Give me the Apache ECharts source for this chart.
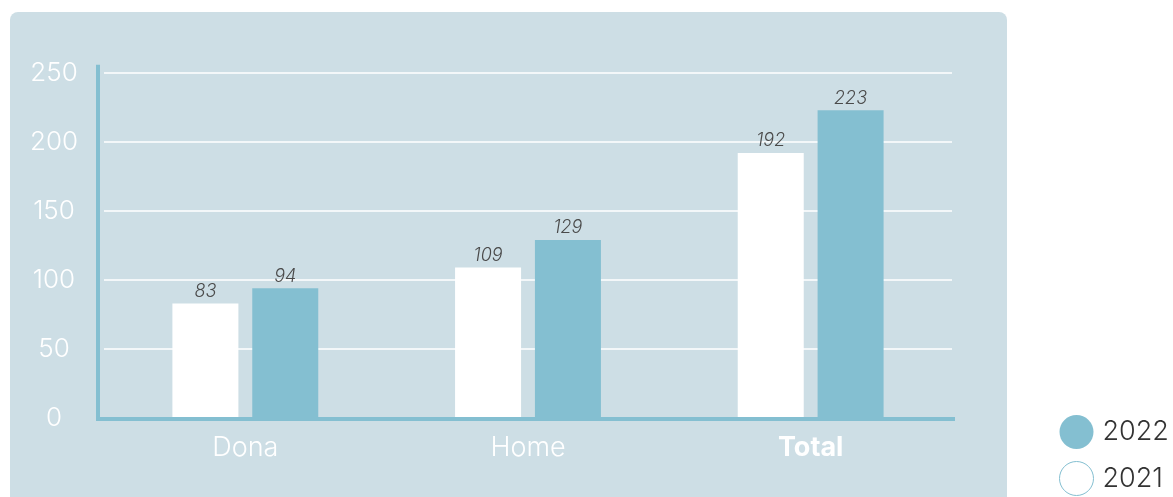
<!DOCTYPE html>
<html>
<head>
<meta charset="utf-8">
<script src="https://cdn.jsdelivr.net/npm/echarts@6/dist/echarts.min.js"></script>
<style>
html,body{margin:0;padding:0;background:#ffffff;}
#chart{width:1173px;height:497px;}
</style>
</head>
<body>
<div id="chart"></div>
<script>
const categories = ['Dona', 'Home', 'Total'];
const values2021 = [83, 109, 192];
const values2022 = [94, 129, 223];
const seriesNames = ['2021', '2022'];
const yTicks = { min: 0, max: 250, interval: 50 };

const TEAL = '#84bfd1';
const PANEL = '#cddee5';
const FONT = 'Inter, sans-serif';

const chart = echarts.init(document.getElementById('chart'), null, { renderer: 'canvas' });

const labelStyle = {
  show: true,
  position: 'top',
  distance: 3,
  color: '#4a4a4a',
  fontStyle: 'italic',
  fontWeight: 300,
  fontFamily: FONT,
  fontSize: 18
};

chart.setOption({
  backgroundColor: '#ffffff',
  animation: false,
  grid: { left: 104, top: 73, width: 848, height: 345, containLabel: false },
  legend: {
    orient: 'vertical',
    left: 1059,
    top: 415,
    padding: 0,
    itemGap: 12,
    itemWidth: 34,
    itemHeight: 34,
    icon: 'circle',
    textStyle: { color: '#333333', fontSize: 27, fontWeight: 300, fontFamily: FONT, padding: [0, 0, 0, 4] },
    data: [
      { name: '2022' },
      { name: '2021', itemStyle: { color: '#ffffff', borderColor: TEAL, borderWidth: 1 } }
    ]
  },
  xAxis: {
    type: 'category',
    data: categories,
    axisLine: { show: false },
    axisTick: { show: false },
    axisLabel: {
      margin: 16,
      color: '#ffffff',
      fontSize: 27,
      fontWeight: 300,
      fontFamily: FONT,
      formatter: function (v) { return v === 'Total' ? '{b|' + v + '}' : v; },
      rich: { b: { fontWeight: 'bold', color: '#ffffff', fontSize: 27, fontFamily: FONT } }
    },
    splitLine: { show: false }
  },
  yAxis: {
    type: 'value',
    min: yTicks.min,
    max: yTicks.max,
    interval: yTicks.interval,
    axisLine: { show: false },
    axisTick: { show: false },
    axisLabel: {
      margin: 50,
      align: 'center',
      color: '#ffffff',
      fontSize: 26,
      fontWeight: 300,
      fontFamily: FONT
    },
    splitLine: { show: true, lineStyle: { color: '#ffffff', width: 1.5 } }
  },
  series: [
    {
      name: seriesNames[0],
      type: 'bar',
      data: values2021,
      barWidth: 66,
      barGap: '21%',
      itemStyle: { color: '#ffffff' },
      label: labelStyle,
      z: 3
    },
    {
      name: seriesNames[1],
      type: 'bar',
      data: values2022,
      barWidth: 66,
      barGap: '21%',
      itemStyle: { color: TEAL },
      label: labelStyle,
      z: 3
    }
  ]
});

// Decorative panel and axis lines, positioned from the chart's own grid/scale
const gridRect = chart.getModel().getComponent('grid', 0).coordinateSystem.getRect();
const yZero = chart.convertToPixel({ yAxisIndex: 0 }, 0);
const yTop = chart.convertToPixel({ yAxisIndex: 0 }, 256);
const axisX = gridRect.x - 6;
chart.setOption({
  graphic: [
    {
      type: 'rect',
      z: -100,
      silent: true,
      shape: { x: 10, y: 12, width: 997, height: 510, r: 8 },
      style: { fill: PANEL }
    },
    {
      type: 'line',
      z: 100,
      silent: true,
      shape: { x1: axisX - 2, y1: yZero + 1, x2: gridRect.x + gridRect.width + 3, y2: yZero + 1 },
      style: { stroke: TEAL, lineWidth: 4 }
    },
    {
      type: 'line',
      z: 100,
      silent: true,
      shape: { x1: axisX, y1: yZero + 3, x2: axisX, y2: yTop },
      style: { stroke: TEAL, lineWidth: 4 }
    }
  ]
});
</script>
</body>
</html>
